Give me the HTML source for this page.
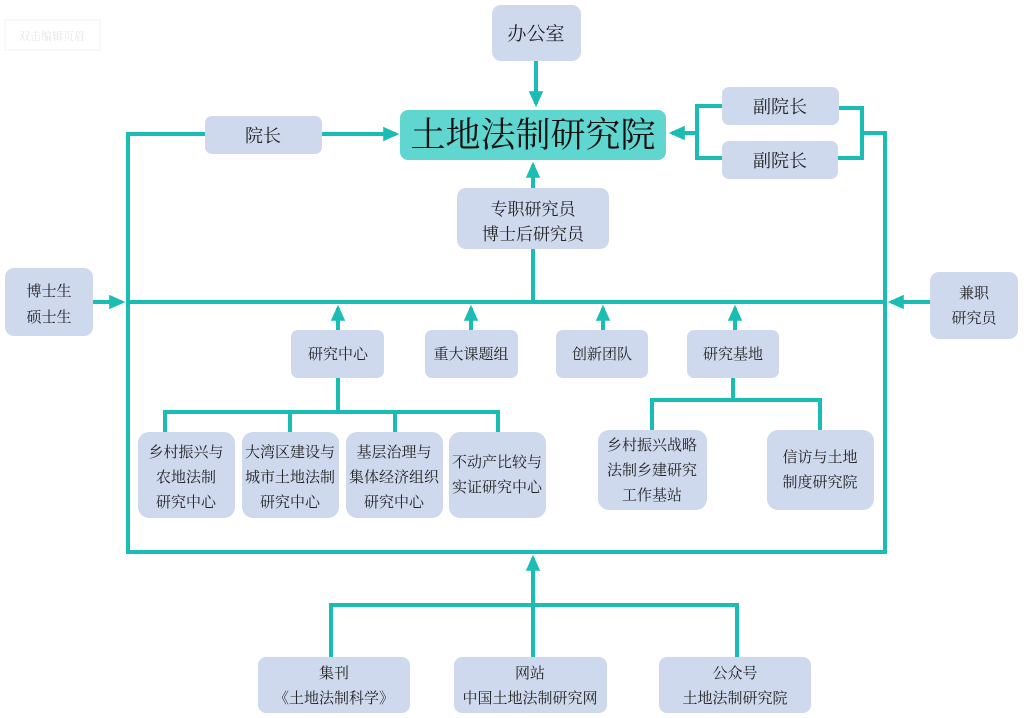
<!DOCTYPE html>
<html><head><meta charset="utf-8"><style>
html,body{margin:0;padding:0;background:#fff;}
svg{display:block;}
text{font-family:"Liberation Serif","Noto Serif CJK SC","Noto Sans CJK SC",serif;fill:#222;text-anchor:middle;}
</style></head><body>
<svg width="1024" height="718" viewBox="0 0 1024 718" xmlns="http://www.w3.org/2000/svg">
<defs>
<marker id="a" markerWidth="4" markerHeight="4" refX="3.2" refY="2" orient="auto" markerUnits="strokeWidth">
<path d="M0,0.2 L4,2 L0,3.8 z" fill="#19bdb3"/></marker>
</defs>
<rect x="5" y="20" width="95" height="30" fill="#fff" stroke="#f3f3f3"/>
<text x="52" y="40" font-size="11" style="fill:#e6e6e6">双击编辑页眉</text>
<g stroke="#19bdb3" stroke-width="4" fill="none">
<line x1="536" y1="61" x2="536" y2="104" marker-end="url(#a)"/>
<polyline points="205,134 128,134 128,552 885,552 885,133 862,133"/>
<line x1="322" y1="134" x2="396" y2="134" marker-end="url(#a)"/>
<polyline points="722,106 697,106 697,158 722,158"/>
<polyline points="839,108 862,108 862,158 838,158"/>
<line x1="697" y1="133" x2="672" y2="133" marker-end="url(#a)"/>
<line x1="533" y1="188" x2="533" y2="165" marker-end="url(#a)"/>
<line x1="533" y1="249" x2="533" y2="302"/>
<line x1="128" y1="302" x2="885" y2="302"/>
<line x1="93" y1="302" x2="122" y2="302" marker-end="url(#a)"/>
<line x1="930" y1="302" x2="891" y2="302" marker-end="url(#a)"/>
<line x1="338" y1="330" x2="338" y2="308" marker-end="url(#a)"/>
<line x1="471" y1="330" x2="471" y2="308" marker-end="url(#a)"/>
<line x1="603" y1="330" x2="603" y2="308" marker-end="url(#a)"/>
<line x1="735" y1="330" x2="735" y2="308" marker-end="url(#a)"/>
<line x1="338" y1="378" x2="338" y2="412"/>
<polyline points="165,432 165,412 498,412 498,432"/>
<line x1="290" y1="412" x2="290" y2="432"/>
<line x1="395" y1="412" x2="395" y2="432"/>
<line x1="733" y1="378" x2="733" y2="400"/>
<polyline points="652,430 652,400 820,400 820,430"/>
<line x1="533" y1="657" x2="533" y2="558" marker-end="url(#a)"/>
<polyline points="331,657 331,605 737,605 737,657"/>
</g>
<g fill="#cfd9ee">
<rect x="492" y="5" width="89" height="56" rx="9"/>
<rect x="205" y="116" width="117" height="38" rx="7"/>
<rect x="722" y="87" width="117" height="38" rx="7"/>
<rect x="722" y="141" width="116" height="38" rx="7"/>
<rect x="457" y="188" width="152" height="61" rx="9"/>
<rect x="5" y="268" width="88" height="68" rx="9"/>
<rect x="930" y="272" width="88" height="67" rx="9"/>
<rect x="291" y="330" width="93" height="48" rx="7"/>
<rect x="425" y="330" width="93" height="48" rx="7"/>
<rect x="556" y="330" width="92" height="48" rx="7"/>
<rect x="687" y="330" width="92" height="48" rx="7"/>
<rect x="138" y="432" width="97" height="86" rx="11"/>
<rect x="242" y="432" width="97" height="86" rx="11"/>
<rect x="346" y="432" width="97" height="86" rx="11"/>
<rect x="449" y="432" width="97" height="86" rx="11"/>
<rect x="598" y="430" width="109" height="80" rx="11"/>
<rect x="767" y="430" width="107" height="80" rx="11"/>
<rect x="258" y="657" width="152" height="56" rx="8"/>
<rect x="454" y="657" width="153" height="56" rx="8"/>
<rect x="659" y="657" width="152" height="56" rx="8"/>
</g>
<rect x="400" y="110" width="266" height="50" rx="8" fill="#5fd6cf"/>
<text x="533" y="147" font-size="35" style="fill:#111">土地法制研究院</text>
<text x="536" y="40" font-size="19">办公室</text>
<text x="263" y="142" font-size="18">院长</text>
<text x="780" y="113" font-size="18">副院长</text>
<text x="780" y="167" font-size="18">副院长</text>
<text x="533" y="215" font-size="17">专职研究员</text>
<text x="533" y="240" font-size="17">博士后研究员</text>
<text x="49" y="296" font-size="15">博士生</text>
<text x="49" y="322" font-size="15">硕士生</text>
<text x="974" y="298" font-size="15">兼职</text>
<text x="974" y="323" font-size="15">研究员</text>
<text x="338" y="359" font-size="15">研究中心</text>
<text x="471" y="359" font-size="15">重大课题组</text>
<text x="602" y="359" font-size="15">创新团队</text>
<text x="733" y="359" font-size="15">研究基地</text>
<g font-size="15">
<text x="186" y="457">乡村振兴与</text><text x="186" y="482">农地法制</text><text x="186" y="507">研究中心</text>
<text x="290" y="457">大湾区建设与</text><text x="290" y="482">城市土地法制</text><text x="290" y="507">研究中心</text>
<text x="394" y="457">基层治理与</text><text x="394" y="482">集体经济组织</text><text x="394" y="507">研究中心</text>
<text x="497" y="467">不动产比较与</text><text x="497" y="492">实证研究中心</text>
<text x="652" y="450">乡村振兴战略</text><text x="652" y="475">法制乡建研究</text><text x="652" y="500">工作基站</text>
<text x="820" y="462">信访与土地</text><text x="820" y="487">制度研究院</text>
<text x="334" y="678">集刊</text><text x="334" y="703">《土地法制科学》</text>
<text x="530" y="678">网站</text><text x="530" y="703">中国土地法制研究网</text>
<text x="735" y="678">公众号</text><text x="735" y="703">土地法制研究院</text>
</g>
</svg>
</body></html>
